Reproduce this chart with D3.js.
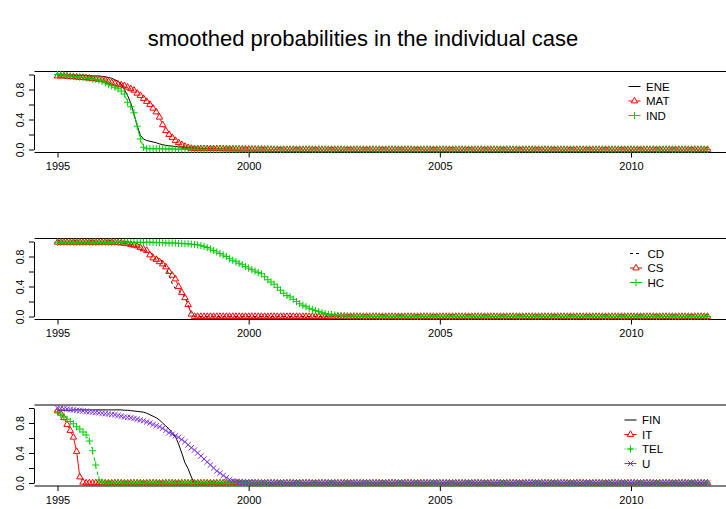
<!DOCTYPE html>
<html>
<head>
<meta charset="utf-8">
<title>smoothed probabilities in the individual case</title>
<script src="https://cdn.jsdelivr.net/npm/d3@7"></script>
<style>
  body { margin: 0; background: #fff; }
  svg { display: block; font-family: "Liberation Sans", Arial, Helvetica, sans-serif; }
</style>
</head>
<body>
<div id="chart"></div>
<script>
// monthly smoothed probabilities, Jan 1995 .. Jan 2012, one row per year
var startYear = 1995;
var xTicks = [1995, 2000, 2005, 2010];
var yTicks = [0, 0.2, 0.4, 0.6, 0.8, 1.0];

var ENE = [
 0.99,0.99,0.99,0.99,0.99,0.99,0.99,0.99,0.99,0.99,0.985,0.98,
 0.98,0.98,0.975,0.97,0.96,0.95,0.93,0.91,0.87,0.80,0.72,0.62,
 0.47,0.32,0.19,0.14,0.12,0.11,0.10,0.09,0.075,0.065,0.055,0.05,
 0.045,0.04,0.035,0.03,0.03,0.025,0.02,0.02,0.018,0.015,0.012,0.01,
 0.01,0.008,0.007,0.006,0.005,0.004,0.003,0.002,0.002,0.001,0.001,0,
 0,0,0,0,0,0,0,0,0,0,0,0,
 0,0,0,0,0,0,0,0,0,0,0,0,
 0,0,0,0,0,0,0,0,0,0,0,0,
 0,0,0,0,0,0,0,0,0,0,0,0,
 0,0,0,0,0,0,0,0,0,0,0,0,
 0,0,0,0,0,0,0,0,0,0,0,0,
 0,0,0,0,0,0,0,0,0,0,0,0,
 0,0,0,0,0,0,0,0,0,0,0,0,
 0,0,0,0,0,0,0,0,0,0,0,0,
 0,0,0,0,0,0,0,0,0,0,0,0,
 0,0,0,0,0,0,0,0,0,0,0,0,
 0,0,0,0,0,0,0,0,0,0,0,0,
 0];
var MAT = [
 0.98,0.98,0.98,0.975,0.97,0.97,0.965,0.96,0.96,0.955,0.95,0.945,
 0.94,0.935,0.93,0.92,0.905,0.89,0.88,0.87,0.86,0.85,0.83,0.81,
 0.79,0.75,0.72,0.68,0.64,0.60,0.55,0.50,0.43,0.33,0.25,0.20,
 0.16,0.12,0.09,0.065,0.04,0.025,0.015,0.01,0.01,0.01,0.01,0.01,
 0.01,0.01,0.01,0.01,0.008,0.008,0.007,0.007,0.006,0.006,0.005,0.005,
 0.005,0.004,0.004,0.003,0.003,0.002,0.002,0.001,0.001,0,0,0,
 0,0,0,0,0,0,0,0,0,0,0,0,
 0,0,0,0,0,0,0,0,0,0,0,0,
 0,0,0,0,0,0,0,0,0,0,0,0,
 0,0,0,0,0,0,0,0,0,0,0,0,
 0,0,0,0,0,0,0,0,0,0,0,0,
 0,0,0,0,0,0,0,0,0,0,0,0,
 0,0,0,0,0,0,0,0,0,0,0,0,
 0,0,0,0,0,0,0,0,0,0,0,0,
 0,0,0,0,0,0,0,0,0,0,0,0,
 0,0,0,0,0,0,0,0,0,0,0,0,
 0,0,0,0,0,0,0,0,0,0,0,0,
 0];
var IND = [
 1.0,0.995,0.99,0.985,0.98,0.975,0.97,0.965,0.96,0.955,0.95,0.94,
 0.935,0.925,0.91,0.89,0.87,0.85,0.83,0.81,0.78,0.74,0.63,0.57,
 0.49,0.31,0.14,0.03,0.01,0.01,0.01,0.01,0.01,0.008,0.008,0.007,
 0.006,0.005,0.005,0.004,0.004,0.003,0.003,0.002,0.002,0.001,0.001,0,
 0,0,0,0,0,0,0,0,0,0,0,0,
 0,0,0,0,0,0,0,0,0,0,0,0,
 0,0,0,0,0,0,0,0,0,0,0,0,
 0,0,0,0,0,0,0,0,0,0,0,0,
 0,0,0,0,0,0,0,0,0,0,0,0,
 0,0,0,0,0,0,0,0,0,0,0,0,
 0,0,0,0,0,0,0,0,0,0,0,0,
 0,0,0,0,0,0,0,0,0,0,0,0,
 0,0,0,0,0,0,0,0,0,0,0,0,
 0,0,0,0,0,0,0,0,0,0,0,0,
 0,0,0,0,0,0,0,0,0,0,0,0,
 0,0,0,0,0,0,0,0,0,0,0,0,
 0,0,0,0,0,0,0,0,0,0,0,0,
 0];

var CD = [
 0.99,0.99,0.99,0.99,0.99,0.99,0.99,0.99,0.99,0.99,0.99,0.99,
 0.99,0.99,0.99,0.99,0.99,0.99,0.99,0.99,0.99,0.98,0.97,0.96,
 0.95,0.93,0.89,0.88,0.86,0.85,0.83,0.80,0.77,0.73,0.66,0.55,
 0.44,0.37,0.35,0.31,0.27,0.15,0.04,0,0,0,0,0,
 0,0,0,0,0,0,0,0,0,0,0,0,
 0,0,0,0,0,0,0,0,0,0,0,0,
 0,0,0,0,0,0,0,0,0,0,0,0,
 0,0,0,0,0,0,0,0,0,0,0,0,
 0,0,0,0,0,0,0,0,0,0,0,0,
 0,0,0,0,0,0,0,0,0,0,0,0,
 0,0,0,0,0,0,0,0,0,0,0,0,
 0,0,0,0,0,0,0,0,0,0,0,0,
 0,0,0,0,0,0,0,0,0,0,0,0,
 0,0,0,0,0,0,0,0,0,0,0,0,
 0,0,0,0,0,0,0,0,0,0,0,0,
 0,0,0,0,0,0,0,0,0,0,0,0,
 0,0,0,0,0,0,0,0,0,0,0,0,
 0];
var CS = [
 0.99,0.99,0.99,0.99,0.99,0.99,0.99,0.99,0.99,0.99,0.99,0.99,
 0.99,0.99,0.99,0.99,0.99,0.99,0.99,0.985,0.98,0.975,0.97,0.96,
 0.95,0.94,0.92,0.90,0.88,0.82,0.78,0.76,0.73,0.70,0.66,0.60,
 0.55,0.50,0.40,0.32,0.25,0.16,0.03,0,0,0,0,0,
 0,0,0,0,0,0,0,0,0,0,0,0,
 0,0,0,0,0,0,0,0,0,0,0,0,
 0,0,0,0,0,0,0,0,0,0,0,0,
 0,0,0,0,0,0,0,0,0,0,0,0,
 0,0,0,0,0,0,0,0,0,0,0,0,
 0,0,0,0,0,0,0,0,0,0,0,0,
 0,0,0,0,0,0,0,0,0,0,0,0,
 0,0,0,0,0,0,0,0,0,0,0,0,
 0,0,0,0,0,0,0,0,0,0,0,0,
 0,0,0,0,0,0,0,0,0,0,0,0,
 0,0,0,0,0,0,0,0,0,0,0,0,
 0,0,0,0,0,0,0,0,0,0,0,0,
 0,0,0,0,0,0,0,0,0,0,0,0,
 0];
var HC = [
 0.99,0.99,0.99,0.99,0.99,0.99,0.99,0.99,0.99,0.99,0.99,0.99,
 0.99,0.99,0.99,0.99,0.99,0.99,0.99,0.99,0.99,0.99,0.99,0.99,
 0.99,0.99,0.99,0.99,0.99,0.99,0.99,0.985,0.985,0.985,0.98,0.98,
 0.98,0.98,0.975,0.975,0.97,0.97,0.965,0.96,0.955,0.945,0.935,0.92,
 0.90,0.88,0.86,0.84,0.82,0.80,0.77,0.75,0.73,0.71,0.69,0.665,
 0.645,0.625,0.605,0.585,0.57,0.53,0.49,0.46,0.43,0.39,0.35,0.31,
 0.28,0.26,0.23,0.20,0.17,0.15,0.13,0.11,0.095,0.08,0.065,0.05,
 0.04,0.03,0.025,0.02,0.015,0.01,0.01,0.008,0.006,0.004,0.002,0,
 0,0,0,0,0,0,0,0,0,0,0,0,
 0,0,0,0,0,0,0,0,0,0,0,0,
 0,0,0,0,0,0,0,0,0,0,0,0,
 0,0,0,0,0,0,0,0,0,0,0,0,
 0,0,0,0,0,0,0,0,0,0,0,0,
 0,0,0,0,0,0,0,0,0,0,0,0,
 0,0,0,0,0,0,0,0,0,0,0,0,
 0,0,0,0,0,0,0,0,0,0,0,0,
 0,0,0,0,0,0,0,0,0,0,0,0,
 0];

var FIN = [
 0.97,0.97,0.97,0.97,0.97,0.975,0.975,0.975,0.975,0.975,0.975,0.975,
 0.975,0.975,0.975,0.975,0.975,0.975,0.975,0.975,0.975,0.97,0.97,0.965,
 0.96,0.955,0.95,0.945,0.93,0.91,0.89,0.87,0.84,0.80,0.76,0.72,
 0.67,0.62,0.52,0.40,0.27,0.19,0.08,0,0,0,0,0,
 0,0,0,0,0,0,0,0,0,0,0,0,
 0,0,0,0,0,0,0,0,0,0,0,0,
 0,0,0,0,0,0,0,0,0,0,0,0,
 0,0,0,0,0,0,0,0,0,0,0,0,
 0,0,0,0,0,0,0,0,0,0,0,0,
 0,0,0,0,0,0,0,0,0,0,0,0,
 0,0,0,0,0,0,0,0,0,0,0,0,
 0,0,0,0,0,0,0,0,0,0,0,0,
 0,0,0,0,0,0,0,0,0,0,0,0,
 0,0,0,0,0,0,0,0,0,0,0,0,
 0,0,0,0,0,0,0,0,0,0,0,0,
 0,0,0,0,0,0,0,0,0,0,0,0,
 0,0,0,0,0,0,0,0,0,0,0,0,
 0];
var IT = [
 0.96,0.93,0.87,0.78,0.70,0.61,0.42,0.08,0.01,0,0,0,
 0,0,0,0,0,0,0,0,0,0,0,0,
 0,0,0,0,0,0,0,0,0,0,0,0,
 0,0,0,0,0,0,0,0,0,0,0,0,
 0,0,0,0,0,0,0,0,0,0,0,0,
 0,0,0,0,0,0,0,0,0,0,0,0,
 0,0,0,0,0,0,0,0,0,0,0,0,
 0,0,0,0,0,0,0,0,0,0,0,0,
 0,0,0,0,0,0,0,0,0,0,0,0,
 0,0,0,0,0,0,0,0,0,0,0,0,
 0,0,0,0,0,0,0,0,0,0,0,0,
 0,0,0,0,0,0,0,0,0,0,0,0,
 0,0,0,0,0,0,0,0,0,0,0,0,
 0,0,0,0,0,0,0,0,0,0,0,0,
 0,0,0,0,0,0,0,0,0,0,0,0,
 0,0,0,0,0,0,0,0,0,0,0,0,
 0,0,0,0,0,0,0,0,0,0,0,0,
 0];
var TEL = [
 0.95,0.92,0.88,0.85,0.82,0.79,0.75,0.72,0.68,0.64,0.56,0.43,
 0.24,0.04,0.01,0,0,0,0,0,0,0,0,0,
 0,0,0,0,0,0,0,0,0,0,0,0,
 0,0,0,0,0,0,0,0,0,0,0,0,
 0,0,0,0,0,0,0,0,0,0,0,0,
 0,0,0,0,0,0,0,0,0,0,0,0,
 0,0,0,0,0,0,0,0,0,0,0,0,
 0,0,0,0,0,0,0,0,0,0,0,0,
 0,0,0,0,0,0,0,0,0,0,0,0,
 0,0,0,0,0,0,0,0,0,0,0,0,
 0,0,0,0,0,0,0,0,0,0,0,0,
 0,0,0,0,0,0,0,0,0,0,0,0,
 0,0,0,0,0,0,0,0,0,0,0,0,
 0,0,0,0,0,0,0,0,0,0,0,0,
 0,0,0,0,0,0,0,0,0,0,0,0,
 0,0,0,0,0,0,0,0,0,0,0,0,
 0,0,0,0,0,0,0,0,0,0,0,0,
 0];
var U = [
 1.0,0.995,0.99,0.985,0.98,0.975,0.97,0.965,0.96,0.955,0.95,0.945,
 0.94,0.935,0.93,0.925,0.92,0.915,0.91,0.90,0.89,0.88,0.875,0.87,
 0.86,0.85,0.84,0.83,0.815,0.80,0.78,0.765,0.75,0.73,0.70,0.67,
 0.65,0.63,0.61,0.58,0.55,0.51,0.47,0.44,0.40,0.36,0.32,0.28,
 0.24,0.20,0.16,0.13,0.10,0.07,0.045,0.03,0.02,0.012,0.01,0.008,
 0.006,0.005,0.004,0.003,0.002,0.001,0,0,0,0,0,0,
 0,0,0,0,0,0,0,0,0,0,0,0,
 0,0,0,0,0,0,0,0,0,0,0,0,
 0,0,0,0,0,0,0,0,0,0,0,0,
 0,0,0,0,0,0,0,0,0,0,0,0,
 0,0,0,0,0,0,0,0,0,0,0,0,
 0,0,0,0,0,0,0,0,0,0,0,0,
 0,0,0,0,0,0,0,0,0,0,0,0,
 0,0,0,0,0,0,0,0,0,0,0,0,
 0,0,0,0,0,0,0,0,0,0,0,0,
 0,0,0,0,0,0,0,0,0,0,0,0,
 0,0,0,0,0,0,0,0,0,0,0,0,
 0];

var RED = "#ff0000", GREEN = "#00cd00", PURPLE = "#7a2ff0";

/* marker shapes, R pch 2 / 3 / 4 */
var pch = {
  tri: "M0,-3.7L3.2,1.9L-3.2,1.9Z",
  plus: "M-3.6,0H3.6M0,-3.6V3.6",
  cross: "M-2.7,-2.7L2.7,2.7M-2.7,2.7L2.7,-2.7"
};

var panels = [
  { y0: 149.5, legX: 634.5,
    series: [
      { name: "ENE", values: ENE, color: "#000", type: "l" },
      { name: "MAT", values: MAT, color: RED, type: "b", pch: "tri" },
      { name: "IND", values: IND, color: GREEN, type: "b", pch: "plus" }
    ] },
  { y0: 316.5, legX: 636,
    series: [
      { name: "CD", values: CD, color: "#000", type: "l", dash: "3,3" },
      { name: "CS", values: CS, color: RED, type: "b", pch: "tri" },
      { name: "HC", values: HC, color: GREEN, type: "b", pch: "plus" }
    ] },
  { y0: 483, legX: 630.5,
    series: [
      { name: "FIN", values: FIN, color: "#000", type: "l" },
      { name: "IT", values: IT, color: RED, type: "b", pch: "tri" },
      { name: "TEL", values: TEL, color: GREEN, type: "b", pch: "plus", dash: "1,3,4,3" },
      { name: "U", values: U, color: PURPLE, type: "b", pch: "cross" }
    ] }
];

var W = 726, H = 509;
var plotLeft = 34.5, plotRight = 760;

var svg = d3.select("#chart").append("svg")
    .attr("width", W).attr("height", H);

svg.append("rect").attr("width", W).attr("height", H).attr("fill", "#fff");

svg.append("text")
    .attr("x", W / 2).attr("y", 46)
    .attr("text-anchor", "middle")
    .attr("font-size", 22)
    .text("smoothed probabilities in the individual case");

var x = d3.scaleLinear().domain([1995, 2010]).range([57.5, 631]);
var fmt = d3.format(".1f");

panels.forEach(function(p) {
  var y = d3.scaleLinear().domain([0, 1]).range([p.y0, p.y0 - 75]);
  var g = svg.append("g");
  var top = y(1.04), bot = y(-0.04);

  // frame: top and bottom (right side is off the page)
  g.append("path")
    .attr("d", "M" + plotLeft + "," + top + "H" + plotRight + "M" + plotLeft + "," + bot + "H" + plotRight)
    .attr("stroke", "#000").attr("fill", "none");

  var ya = g.append("g")
      .attr("transform", "translate(" + (plotLeft - 0.5) + ",0)")
      .call(d3.axisLeft(y).tickValues(yTicks).tickSize(5).tickSizeOuter(0)
        .tickFormat(function(d, i) { return i % 2 ? "" : fmt(d); }));
  ya.attr("font-family", null).attr("font-size", 10.5);
  ya.selectAll("text")
      .attr("x", null).attr("dy", null)
      .attr("text-anchor", "middle")
      .attr("transform", "translate(-10.5,0) rotate(-90)");

  var xa = g.append("g")
      .attr("transform", "translate(0," + bot + ")")
      .call(d3.axisBottom(x).tickValues(xTicks).tickSize(5).tickSizeOuter(0)
        .tickFormat(d3.format("d")));
  xa.attr("font-family", null).attr("font-size", 11);
  xa.selectAll("text").attr("y", 17.5).attr("dy", null);
  xa.select(".domain").remove();

  p.series.forEach(function(s) {
    var pts = s.values.map(function(v, i) {
      return [x(startYear + i / 12), y(v)];
    });
    if (s.type === "l") {
      g.append("path")
        .attr("d", d3.line()(pts))
        .attr("fill", "none")
        .attr("stroke", s.color)
        .attr("stroke-width", 1)
        .attr("stroke-dasharray", s.dash || null);
      return;
    }
    // type "b": segments with a gap round each point
    var gap = 2.6, segs = [];
    for (var i = 1; i < pts.length; i++) {
      var a = pts[i - 1], b = pts[i];
      var dx = b[0] - a[0], dy = b[1] - a[1], len = Math.sqrt(dx * dx + dy * dy);
      if (len > 2 * gap + 0.5) {
        var ux = dx / len, uy = dy / len;
        segs.push("M" + (a[0] + ux * gap) + "," + (a[1] + uy * gap) +
                  "L" + (b[0] - ux * gap) + "," + (b[1] - uy * gap));
      }
    }
    g.append("path")
      .attr("d", segs.join(""))
      .attr("fill", "none")
      .attr("stroke", s.color)
      .attr("stroke-dasharray", s.dash || null);
    g.append("g").selectAll("path")
      .data(pts).enter().append("path")
      .attr("transform", function(d) { return "translate(" + d[0] + "," + d[1] + ")"; })
      .attr("d", pch[s.pch])
      .attr("fill", "none")
      .attr("stroke", s.color)
      .attr("stroke-width", 1);
  });

  // legend
  var lg = g.append("g");
  p.series.forEach(function(s, i) {
    var ly = p.y0 - 63 + i * 14.5;
    lg.append("path")
      .attr("d", "M" + (p.legX - 6) + "," + ly + "H" + (p.legX + 6))
      .attr("stroke", s.color)
      .attr("stroke-dasharray", s.dash || null);
    if (s.pch) {
      lg.append("path")
        .attr("transform", "translate(" + p.legX + "," + ly + ")")
        .attr("d", pch[s.pch])
        .attr("fill", "#fff")
        .attr("stroke", s.color);
    }
    lg.append("text")
      .attr("x", p.legX + 11.5).attr("y", ly)
      .attr("dominant-baseline", "central")
      .attr("font-size", 11.5)
      .text(s.name);
  });
});
</script>
</body>
</html>
